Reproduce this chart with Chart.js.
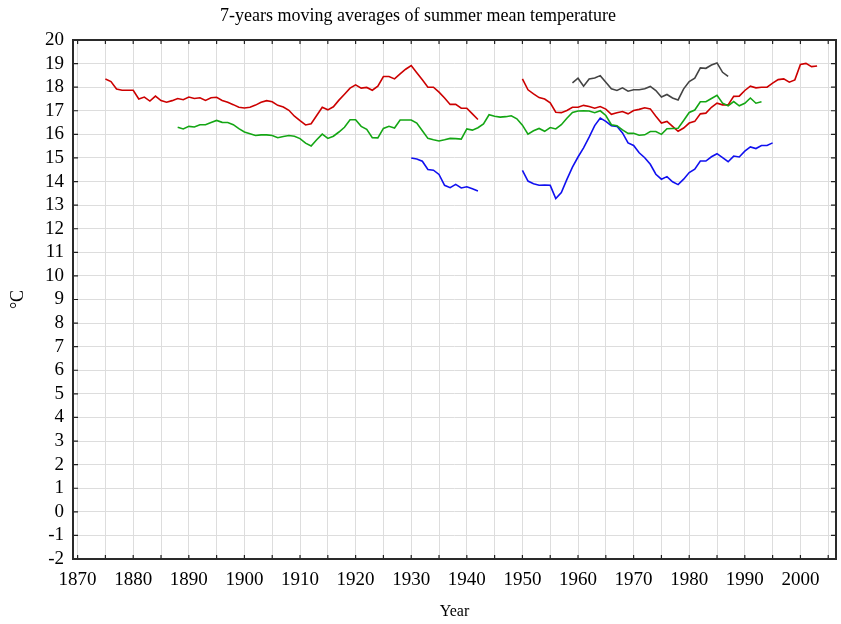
<!DOCTYPE html>
<html>
<head>
<meta charset="utf-8">
<script src="https://cdn.jsdelivr.net/npm/chart.js@4"></script>
<style>
  html, body { margin: 0; padding: 0; background: #fff; }
  #wrap { width: 841px; height: 624px; }
</style>
</head>
<body>
<div id="wrap"><canvas id="chart"></canvas></div>
<script>
/* ===== DATA ===== */
const xTicks = [1870,1875,1880,1885,1890,1895,1900,1905,1910,1915,1920,1925,1930,1935,1940,1945,1950,1955,1960,1965,1970,1975,1980,1985,1990,1995,2000,2005];
const yTicks = [-2,-1,0,1,2,3,4,5,6,7,8,9,10,11,12,13,14,15,16,17,18,19,20];

// red: 1875-2003, gap 1943-1949
const redStart = 1875;
const redValues = [
  18.35,18.24,17.92,17.87,17.87,17.87,17.50,17.58,17.41,17.62,
  17.43,17.36,17.43,17.52,17.47,17.58,17.52,17.55,17.44,17.55,
  17.57,17.44,17.36,17.26,17.15,17.12,17.15,17.24,17.36,17.43,
  17.38,17.23,17.16,17.02,16.77,16.58,16.40,16.45,16.80,17.15,
  17.04,17.17,17.45,17.70,17.96,18.10,17.96,17.99,17.87,18.04,
  18.45,18.45,18.35,18.56,18.76,18.92,18.61,18.31,18.00,18.00,
  17.79,17.54,17.27,17.27,17.11,17.11,16.87,16.63,
  null,null,null,null,null,null,null,
  18.35,17.89,17.72,17.56,17.50,17.34,16.94,16.92,17.01,17.15,
  17.15,17.23,17.18,17.11,17.18,17.07,16.85,16.92,16.97,16.87,
  17.01,17.06,17.13,17.08,16.77,16.48,16.55,16.34,16.13,16.27,
  16.48,16.55,16.87,16.90,17.15,17.32,17.25,17.25,17.61,17.62,
  17.86,18.04,17.97,18.00,18.00,18.17,18.32,18.35,18.21,18.31,
  18.96,19.01,18.87,18.90
];

// green: 1888-1993
const greenStart = 1888;
const greenValues = [
  16.30,16.23,16.34,16.31,16.41,16.41,16.50,16.59,16.51,16.50,
  16.41,16.24,16.10,16.03,15.95,15.98,15.98,15.95,15.86,15.91,
  15.95,15.92,15.82,15.63,15.51,15.77,16.01,15.83,15.92,16.10,
  16.30,16.62,16.62,16.34,16.21,15.86,15.85,16.25,16.34,16.27,
  16.61,16.61,16.61,16.48,16.15,15.83,15.77,15.72,15.77,15.83,
  15.82,15.80,16.23,16.18,16.28,16.44,16.83,16.77,16.73,16.75,
  16.79,16.66,16.39,16.01,16.15,16.25,16.13,16.29,16.23,16.41,
  16.68,16.93,16.99,17.00,16.99,16.92,17.00,16.80,16.41,16.37,
  16.19,16.04,16.05,15.96,15.98,16.12,16.12,16.00,16.24,16.25,
  16.26,16.59,16.93,17.03,17.38,17.38,17.52,17.66,17.32,17.21,
  17.39,17.21,17.32,17.54,17.32,17.38
];

// blue: 1930-1995, gap 1943-1949
const blueStart = 1930;
const blueValues = [
  15.00,14.96,14.86,14.51,14.48,14.30,13.84,13.74,13.88,13.73,
  13.78,13.69,13.60,
  null,null,null,null,null,null,null,
  14.47,14.02,13.91,13.84,13.85,13.84,13.28,13.53,14.09,14.61,
  15.04,15.43,15.88,16.37,16.69,16.55,16.37,16.34,16.06,15.64,
  15.53,15.22,15.01,14.73,14.31,14.10,14.21,13.99,13.87,14.10,
  14.38,14.52,14.87,14.87,15.05,15.18,15.01,14.84,15.08,15.04,
  15.29,15.47,15.40,15.53,15.53,15.64
];

// gray: 1959-1987
const grayStart = 1959;
const grayValues = [
  18.18,18.38,18.04,18.35,18.39,18.49,18.21,17.93,17.86,17.97,
  17.83,17.89,17.89,17.93,18.03,17.86,17.58,17.69,17.54,17.46,
  17.93,18.24,18.38,18.82,18.80,18.94,19.03,18.63,18.46
];

/* ===== HELPERS ===== */
const toPoints = (start, vals) => vals.map((v, i) => ({ x: start + i, y: v }));
const serif = "'Liberation Serif', 'Times New Roman', serif";

const line = (label, start, vals, color) => ({
  label, data: toPoints(start, vals), borderColor: color, backgroundColor: color,
  borderWidth: 1.6, pointRadius: 0, tension: 0, spanGaps: false, fill: false
});

// frame and inward tick marks
const framePlugin = {
  id: 'frame',
  afterDraw(chart) {
    const { ctx, chartArea: a, scales: { x, y } } = chart;
    ctx.save();
    ctx.strokeStyle = '#222';
    ctx.lineWidth = 1.2;
    ctx.beginPath();
    xTicks.forEach(v => {
      const px = x.getPixelForValue(v);
      ctx.moveTo(px, a.bottom); ctx.lineTo(px, a.bottom - 4);
      ctx.moveTo(px, a.top); ctx.lineTo(px, a.top + 4);
    });
    yTicks.forEach(v => {
      const py = y.getPixelForValue(v);
      ctx.moveTo(a.left, py); ctx.lineTo(a.left + 5, py);
      ctx.moveTo(a.right, py); ctx.lineTo(a.right - 5, py);
    });
    ctx.stroke();
    ctx.lineWidth = 2;
    ctx.strokeStyle = '#2a2a2a';
    ctx.strokeRect(a.left, a.top, a.right - a.left, a.bottom - a.top);
    ctx.restore();
  }
};

new Chart(document.getElementById('chart'), {
  type: 'line',
  data: {
    datasets: [
      line('gray', grayStart, grayValues, '#444444'),
      line('green', greenStart, greenValues, '#14a614'),
      line('blue', blueStart, blueValues, '#1010f0'),
      line('red', redStart, redValues, '#cc0000')
    ]
  },
  options: {
    responsive: true, maintainAspectRatio: false, animation: false,
    layout: { padding: { left: 0, right: 5, top: 0, bottom: 0 } },
    plugins: {
      legend: { display: false },
      tooltip: { enabled: false },
      title: {
        display: true, text: '7-years moving averages of summer mean temperature',
        color: '#000', font: { family: serif, size: 18, weight: 'normal', lineHeight: '22px' },
        padding: { top: 5, bottom: 13 }
      }
    },
    scales: {
      x: {
        type: 'linear', min: 1869.17, max: 2006.4,
        afterBuildTicks: axis => { axis.ticks = xTicks.map(v => ({ value: v })); },
        afterFit: axis => { axis.height = 65; },
        grid: { color: '#dddddd', lineWidth: 1, drawTicks: false },
        border: { display: false },
        ticks: {
          color: '#000', font: { family: serif, size: 19 }, padding: 10,
          autoSkip: false, maxRotation: 0,
          callback: v => (v % 10 === 0 ? String(v) : '')
        },
        title: { display: true, text: 'Year', color: '#000', font: { family: serif, size: 16 }, padding: { top: 0, bottom: 3 } }
      },
      y: {
        type: 'linear', min: -2, max: 20,
        afterBuildTicks: axis => { axis.ticks = yTicks.map(v => ({ value: v })); },
        afterFit: axis => { axis.width = 73; },
        grid: { color: '#dddddd', lineWidth: 1, drawTicks: false },
        border: { display: false },
        ticks: { color: '#000', font: { family: serif, size: 19 }, padding: 9, autoSkip: false },
        title: { display: true, text: '°C', color: '#000', font: { family: serif, size: 18 }, padding: { top: 7, bottom: 0 } }
      }
    }
  },
  plugins: [framePlugin]
});
</script>
</body>
</html>
